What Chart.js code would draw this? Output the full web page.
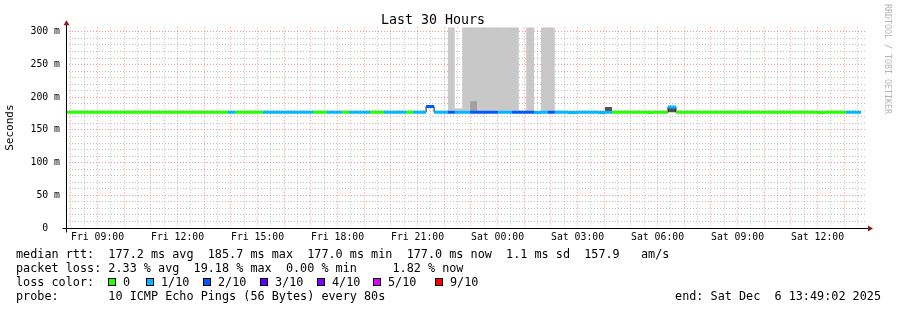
<!DOCTYPE html>
<html>
<head>
<meta charset="utf-8">
<script src="https://cdn.jsdelivr.net/npm/chart.js@4.4.1/dist/chart.umd.min.js"></script>
<style>
html, body { margin: 0; padding: 0; background: #fff; }
#wrap { position: relative; width: 897px; height: 310px; overflow: hidden; font-family: 'DejaVu Sans Mono', monospace; color: #000; }
#c { position: absolute; left: 0; top: 0; }
.row { position: absolute; left: 16px; font-size: 11.8px; line-height: 14px; white-space: pre; }
.sq { position: absolute; width: 6px; height: 6px; border: 1px solid #000; }
.lbl { position: absolute; font-size: 11.8px; line-height: 14px; white-space: pre; }
#end { position: absolute; right: 16px; top: 289px; font-size: 11.8px; line-height: 14px; white-space: pre; }
#rrd { position: absolute; left: 883px; top: 4px; writing-mode: vertical-rl; font-size: 8.3px; line-height: 9px; color: #b4b4b4; white-space: pre; }
</style>
</head>
<body>
<div id="wrap">
  <canvas id="c" width="897" height="310"></canvas>
  <div class="row" style="top:247px">median rtt:  177.2 ms avg  185.7 ms max  177.0 ms min  177.0 ms now  1.1 ms sd  157.9   am/s</div>
  <div class="row" style="top:261px">packet loss: 2.33 % avg  19.18 % max  0.00 % min     1.82 % now</div>
  <div class="row" style="top:275px">loss color:</div>
  <div class="row" style="top:289px">probe:       10 ICMP Echo Pings (56 Bytes) every 80s</div>
  <div id="end">end: Sat Dec  6 13:49:02 2025</div>
  <div id="rrd">RRDTOOL / TOBI OETIKER</div>
</div>
<script>
// time axis in hours counted from Fri 00:00
var startHour = 7 + 49/60;
var endHour = 37 + 49/60;

// median rtt, one step per segment between two breaks
var medBreaks = [7.85, 13.89, 14.16, 15.20, 17.08, 17.60, 18.17, 18.43, 19.22, 19.74,
                 20.57, 20.83, 21.32, 21.62, 22.14, 22.40, 22.97, 24.02, 24.54, 25.37,
                 25.63, 25.89, 26.15, 26.64, 26.98, 27.77, 28.03, 28.29, 29.60, 29.83,
                 30.39, 30.69, 35.98, 36.28, 37.07, 37.63];
var medLoss = [0,1,0,1,0,1,0,1,0,1,
               0,1,2,1,2,1,2,1,2,1,
               1,2,1,1,1,1,1,0,0,0,
               1,0,0,0,1];
var medRtt = [177,177,177,177,177,177,177,177,177,177,
              177,177,185.7,177,177,177,177,177,177,176.6,
              177,177,177,176.6,177,176.6,177,177,176.6,177,
              185.2,177,176.6,177,177];

// smoke (ping spread) blocks
var smokeStart = [22.14, 22.40, 22.67, 22.97, 25.07, 25.63, 28.03, 30.39];
var smokeEnd   = [22.40, 22.67, 24.80, 23.23, 25.37, 26.15, 28.29, 30.69];
var smokeTop   = [330, 183, 330, 194, 330, 330, 185, 185];
var smokeLevel = [0, 0, 0, 1, 0, 0, 2, 2];

var lossLabels = ['0', '1/10', '2/10', '3/10', '4/10', '5/10', '9/10'];
var lossColors = ['#26ff00', '#00b8ff', '#0059ff', '#5e00ff', '#7e00ff', '#dd00ff', '#ff0000'];
var smokeColors = ['#c8c8c8', '#a0a0a0', '#505050'];

var MONO = "'DejaVu Sans Mono', monospace";
var RED = 'rgba(255,40,40,0.5)';
var GREY = 'rgba(140,140,140,0.55)';

// legend squares for loss colors
var legLeft = [108, 146, 203, 260, 317, 373, 435];
var wrap = document.getElementById('wrap');
lossLabels.forEach(function(t, i) {
  var sq = document.createElement('div');
  sq.className = 'sq';
  sq.style.left = legLeft[i] + 'px';
  sq.style.top = '278px';
  sq.style.background = lossColors[i];
  wrap.appendChild(sq);
  var lb = document.createElement('div');
  lb.className = 'lbl';
  lb.style.left = (legLeft[i] + 15) + 'px';
  lb.style.top = '275px';
  lb.textContent = t;
  wrap.appendChild(lb);
});

var datasets = [];

// colored median, one dataset per loss level
lossColors.forEach(function(col, lvl) {
  var pts = [];
  for (var i = 0; i < medLoss.length; i++) {
    if (medLoss[i] !== lvl) continue;
    pts.push({x: medBreaks[i], y: medRtt[i]});
    pts.push({x: medBreaks[i+1], y: medRtt[i]});
    pts.push({x: medBreaks[i+1], y: null});
  }
  datasets.push({
    data: pts, borderColor: col, borderWidth: 3, pointRadius: 0,
    borderCapStyle: 'butt', spanGaps: false, fill: false, order: 0
  });
});

// thin dark median under the colored one
var medPts = medRtt.map(function(v, i) { return {x: medBreaks[i], y: v}; });
medPts.push({x: medBreaks[medBreaks.length-1], y: medRtt[medRtt.length-1]});
datasets.push({
  data: medPts, borderColor: '#202020', borderWidth: 1, pointRadius: 0,
  stepped: true, fill: false, order: 1
});

// smoke
smokeStart.forEach(function(s, i) {
  datasets.push({
    data: [{x: s, y: smokeTop[i]}, {x: smokeEnd[i], y: smokeTop[i]}],
    borderWidth: 0, borderColor: 'rgba(0,0,0,0)', pointRadius: 0,
    backgroundColor: smokeColors[smokeLevel[i]],
    fill: {value: 177}, order: 2.5 - smokeLevel[i] * 0.1
  });
});

function pad2(n) { return (n < 10 ? '0' : '') + n; }

var axes = {
  id: 'axes',
  afterDraw: function(chart) {
    var ctx = chart.ctx, a = chart.chartArea;
    var x0 = Math.round(a.left) + 0.5, y0 = Math.round(a.bottom) + 0.5;
    ctx.save();
    ctx.strokeStyle = '#000';
    ctx.lineWidth = 1;
    ctx.beginPath();
    ctx.moveTo(x0, y0 + 4); ctx.lineTo(x0, a.top - 4);
    ctx.moveTo(x0 - 4, y0); ctx.lineTo(a.right + 3, y0);
    ctx.stroke();
    ctx.fillStyle = '#8b1a1a';
    ctx.beginPath();
    ctx.moveTo(x0 - 3, a.top - 2); ctx.lineTo(x0 + 3, a.top - 2); ctx.lineTo(x0, a.top - 7);
    ctx.closePath(); ctx.fill();
    ctx.beginPath();
    ctx.moveTo(a.right + 2, y0 - 3); ctx.lineTo(a.right + 2, y0 + 3); ctx.lineTo(a.right + 7, y0);
    ctx.closePath(); ctx.fill();
    ctx.restore();
  }
};

new Chart(document.getElementById('c'), {
  type: 'line',
  data: { datasets: datasets },
  options: {
    responsive: false,
    animation: false,
    devicePixelRatio: 1,
    layout: { padding: { left: 0, right: 31, top: 0, bottom: 62 } },
    plugins: {
      legend: { display: false },
      tooltip: { enabled: false },
      title: {
        display: true, text: 'Last 30 Hours', color: '#000',
        font: { family: MONO, size: 13.3, weight: 'normal', lineHeight: 1 },
        padding: { top: 14, bottom: 0 }
      }
    },
    scales: {
      x: {
        type: 'linear', min: startHour, max: endHour,
        afterFit: function(s) { s.height = 20; },
        afterBuildTicks: function(s) {
          var t = [];
          for (var h = Math.ceil(startHour * 2) / 2; h <= endHour; h += 0.5) t.push({value: h});
          s.ticks = t;
        },
        border: { display: false, dash: [1, 2] },
        grid: {
          drawTicks: false,
          color: function(c) { return c.tick.value % 1 === 0 ? RED : GREY; }
        },
        ticks: {
          autoSkip: false, maxRotation: 0,
          padding: 4, color: '#000', font: { family: MONO, size: 9.8 },
          callback: function(v) {
            if (v % 3 !== 0) return '';
            return (v < 24 ? 'Fri ' : 'Sat ') + pad2(v % 24) + ':00';
          }
        }
      },
      y: {
        min: 0, max: 307,
        afterFit: function(s) { s.width = 66; },
        afterBuildTicks: function(s) {
          var t = [];
          for (var v = 0; v <= 300; v += 10) t.push({value: v});
          s.ticks = t;
        },
        border: { display: false, dash: [1, 2] },
        grid: {
          drawTicks: false,
          color: function(c) { return c.tick.value % 50 === 0 ? RED : GREY; }
        },
        title: {
          display: true, text: 'Seconds', color: '#000',
          font: { family: MONO, size: 11 }, padding: { top: 4, bottom: 0 }
        },
        ticks: {
          autoSkip: false,
          padding: 6, color: '#000', font: { family: MONO, size: 9.8 },
          callback: function(v) {
            if (v === 0) return '0  ';
            return v % 50 === 0 ? v + ' m' : '';
          }
        }
      }
    }
  },
  plugins: [axes]
});
</script>
</body>
</html>
